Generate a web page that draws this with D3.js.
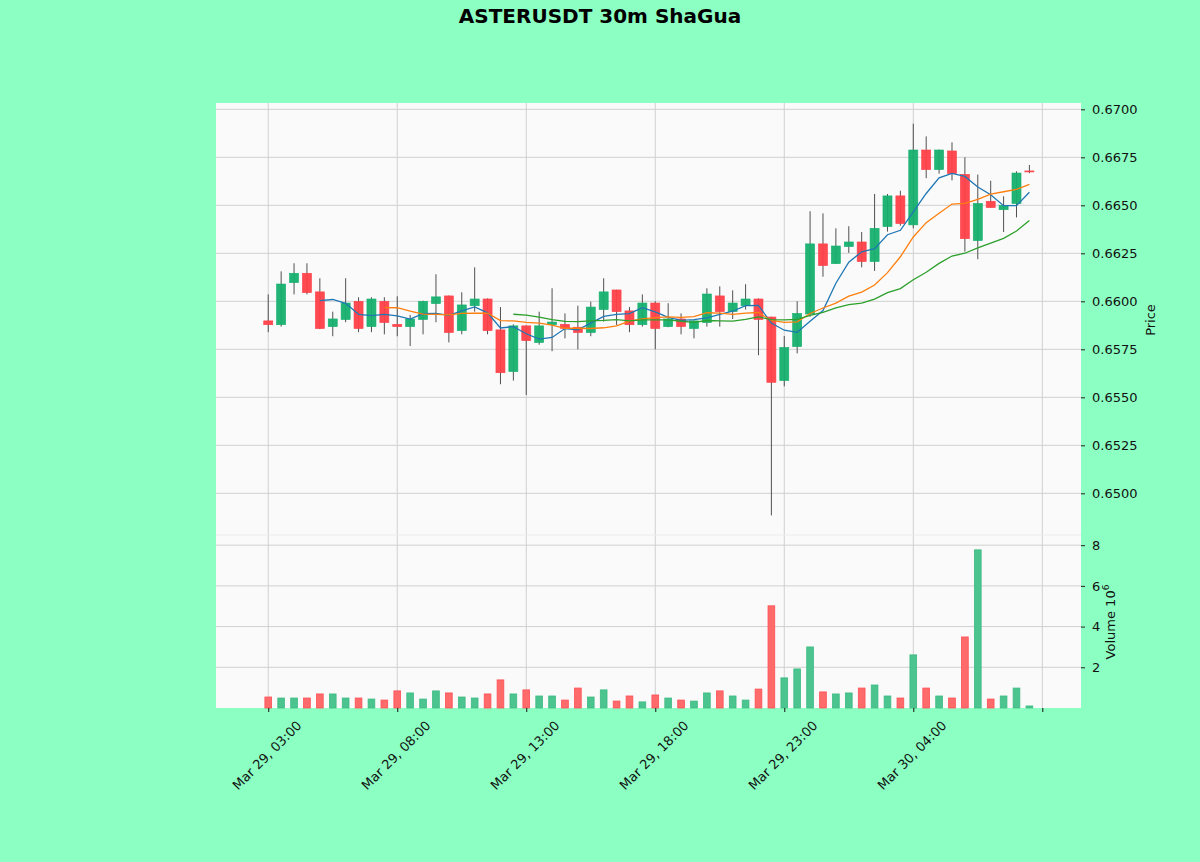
<!DOCTYPE html>
<html>
<head>
<meta charset="utf-8">
<script src="https://cdn.jsdelivr.net/npm/d3@7"></script>
<style>
  body { margin: 0; background: #8cffc2; }
  svg { display: block; font-family: "DejaVu Sans", sans-serif; }
</style>
</head>
<body>
<div id="chart"></div>
<script>
// candle times, 30m bars
const times = [
  "29 03:00","29 03:30","29 04:00","29 04:30","29 05:00","29 05:30","29 06:00","29 06:30","29 07:00","29 07:30",
  "29 08:00","29 08:30","29 09:00","29 09:30","29 10:00","29 10:30","29 11:00","29 11:30","29 12:00","29 12:30",
  "29 13:00","29 13:30","29 14:00","29 14:30","29 15:00","29 15:30","29 16:00","29 16:30","29 17:00","29 17:30",
  "29 18:00","29 18:30","29 19:00","29 19:30","29 20:00","29 20:30","29 21:00","29 21:30","29 22:00","29 22:30",
  "29 23:00","29 23:30","30 00:00","30 00:30","30 01:00","30 01:30","30 02:00","30 02:30","30 03:00","30 03:30",
  "30 04:00","30 04:30","30 05:00","30 05:30","30 06:00","30 06:30","30 07:00","30 07:30","30 08:00","30 08:30"
];

const opens = [
  0.65898,0.65878,0.66097,0.66146,0.66049,0.65868,0.65905,0.66000,0.65868,0.66000,
  0.65880,0.65868,0.65905,0.65988,0.66028,0.65847,0.65977,0.66012,0.65851,0.65634,
  0.65872,0.65785,0.65878,0.65880,0.65865,0.65837,0.65957,0.66059,0.65950,0.65878,
  0.65991,0.65868,0.65908,0.65858,0.65889,0.66028,0.65946,0.65977,0.66012,0.65918,
  0.65587,0.65764,0.65934,0.66299,0.66196,0.66285,0.66309,0.66207,0.66389,0.66549,
  0.66398,0.66788,0.66686,0.66783,0.66661,0.66316,0.66521,0.66477,0.66509,0.66679
];
const highs = [
  0.66036,0.66156,0.66198,0.66198,0.66120,0.65946,0.66120,0.66021,0.66021,0.66021,
  0.66026,0.65929,0.66003,0.66141,0.66030,0.66047,0.66177,0.66015,0.65970,0.65880,
  0.65875,0.65946,0.66068,0.65937,0.65977,0.65998,0.66120,0.66060,0.65970,0.66036,
  0.66000,0.65990,0.65937,0.65900,0.66068,0.66078,0.66057,0.66089,0.66015,0.65920,
  0.65819,0.66000,0.66469,0.66458,0.66380,0.66391,0.66361,0.66559,0.66559,0.66576,
  0.66925,0.66859,0.66790,0.66828,0.66750,0.66660,0.66628,0.66547,0.66677,0.66710
];
const lows = [
  0.65839,0.65868,0.66036,0.66036,0.65855,0.65818,0.65891,0.65839,0.65839,0.65828,
  0.65818,0.65767,0.65828,0.65891,0.65786,0.65828,0.65946,0.65828,0.65568,0.65587,
  0.65512,0.65774,0.65740,0.65807,0.65750,0.65818,0.65894,0.65877,0.65839,0.65868,
  0.65750,0.65865,0.65828,0.65807,0.65868,0.65868,0.65908,0.65957,0.65719,0.64885,
  0.65557,0.65729,0.65920,0.66128,0.66195,0.66252,0.66177,0.66158,0.66363,0.66394,
  0.66380,0.66641,0.66665,0.66630,0.66259,0.66219,0.66488,0.66361,0.66437,0.66667
];
const closes = [
  0.65878,0.66090,0.66146,0.66045,0.65858,0.65908,0.65991,0.65858,0.66012,0.65889,
  0.65868,0.65908,0.66000,0.66023,0.65837,0.65981,0.66012,0.65847,0.65628,0.65872,
  0.65795,0.65872,0.65892,0.65859,0.65837,0.65970,0.66049,0.65946,0.65878,0.65991,
  0.65858,0.65908,0.65868,0.65898,0.66038,0.65946,0.65991,0.66012,0.65905,0.65578,
  0.65760,0.65937,0.66299,0.66186,0.66288,0.66309,0.66207,0.66380,0.66549,0.66405,
  0.66788,0.66686,0.66788,0.66665,0.66326,0.66510,0.66488,0.66500,0.66668,0.66674
];
// volume in millions
const volumes = [
  0.54,0.49,0.49,0.49,0.69,0.69,0.49,0.49,0.44,0.39,
  0.84,0.74,0.44,0.84,0.74,0.54,0.49,0.69,1.38,0.69,
  0.89,0.59,0.59,0.39,0.98,0.54,0.89,0.34,0.59,0.30,
  0.64,0.49,0.39,0.34,0.74,0.84,0.59,0.39,0.93,5.02,
  1.48,1.92,3.00,0.79,0.69,0.74,0.98,1.13,0.59,0.49,
  2.61,0.98,0.59,0.49,3.49,7.77,0.44,0.59,0.98,0.10
];

const mavPeriods = [5, 10, 20];
const mavColors = ["#1f77b4", "#ff7f0e", "#2ca02c"];

const priceTicks = [0.6500, 0.6525, 0.6550, 0.6575, 0.6600, 0.6625, 0.6650, 0.6675, 0.6700];
const volTicks = [2, 4, 6, 8];
const xTickIdx = [0, 10, 20, 30, 40, 50, 60];
const xTickLabels = ["Mar 29, 03:00", "Mar 29, 08:00", "Mar 29, 13:00", "Mar 29, 18:00",
                     "Mar 29, 23:00", "Mar 30, 04:00", ""];

const upColor = "#15b06e", downColor = "#ff4048";
const upVol = "#4bc48f", downVol = "#ff6b6b";

// layout
const W = 1200, H = 862;
const left = 216, right = 1081;
const priceTop = 103, priceBottom = 535, volTop = 535, volBottom = 708;

const svg = d3.select("#chart").append("svg")
  .attr("width", W).attr("height", H);

svg.append("rect").attr("width", W).attr("height", H).attr("fill", "#8cffc2");

const x = d3.scaleLinear().domain([-4.05, 63.0]).range([left, right]);
const y = d3.scaleLinear().domain([0.647828, 0.670328]).range([priceBottom, priceTop]);
const yv = d3.scaleLinear().domain([0, 8.5]).range([volBottom, volTop]);

const step = x(1) - x(0);

// panel backgrounds
svg.append("rect").attr("x", left).attr("y", priceTop)
  .attr("width", right - left).attr("height", volBottom - priceTop)
  .attr("fill", "#fafafa");

const grid = svg.append("g").attr("stroke", "#d0d0d0").attr("stroke-width", 1);
priceTicks.forEach(t => {
  grid.append("line").attr("x1", left).attr("x2", right)
    .attr("y1", y(t)).attr("y2", y(t));
});
volTicks.forEach(t => {
  grid.append("line").attr("x1", left).attr("x2", right)
    .attr("y1", yv(t)).attr("y2", yv(t));
});
xTickIdx.forEach(t => {
  grid.append("line").attr("x1", x(t)).attr("x2", x(t))
    .attr("y1", priceTop).attr("y2", volBottom);
});
svg.append("line").attr("x1", left).attr("x2", right)
  .attr("y1", volTop).attr("y2", volTop)
  .attr("stroke", "#ececec").attr("stroke-width", 1);

const data = times.map((t, i) => ({
  i, t, o: opens[i], h: highs[i], l: lows[i], c: closes[i], v: volumes[i],
  up: closes[i] >= opens[i],
  vup: i === 0 ? closes[i] >= opens[i] : closes[i] >= closes[i - 1]
}));

// volume bars
const vw = step * 0.52;
svg.append("g").selectAll("rect").data(data).enter().append("rect")
  .attr("x", d => x(d.i) - vw / 2)
  .attr("y", d => yv(d.v))
  .attr("width", vw)
  .attr("height", d => yv(0) - yv(d.v))
  .attr("fill", d => d.vup ? upVol : downVol)
  .attr("stroke", d => d.vup ? "#3dbb83" : "#ff4f55")
  .attr("stroke-width", 0.8);

// wicks
svg.append("g").selectAll("line").data(data).enter().append("line")
  .attr("x1", d => x(d.i)).attr("x2", d => x(d.i))
  .attr("y1", d => y(d.h)).attr("y2", d => y(d.l))
  .attr("stroke", "#505050").attr("stroke-width", 1);

// bodies
const bw = step * 0.7;
svg.append("g").selectAll("rect").data(data).enter().append("rect")
  .attr("x", d => x(d.i) - bw / 2)
  .attr("y", d => y(Math.max(d.o, d.c)))
  .attr("width", bw)
  .attr("height", d => Math.max(1, Math.abs(y(d.o) - y(d.c))))
  .attr("fill", d => d.up ? upColor : downColor)
  .attr("stroke", d => d.up ? upColor : downColor)
  .attr("stroke-width", 0.6)
  .attr("fill-opacity", 0.95);

// moving averages of the closes
const line = d3.line().x(d => x(d[0])).y(d => y(d[1]));
mavPeriods.forEach((n, k) => {
  const pts = [];
  for (let i = n - 1; i < closes.length; i++) {
    pts.push([i, d3.mean(closes.slice(i - n + 1, i + 1))]);
  }
  svg.append("path").datum(pts)
    .attr("d", line)
    .attr("fill", "none")
    .attr("stroke", mavColors[k])
    .attr("stroke-width", 1.3);
});

// right axes
const pAxis = svg.append("g").attr("transform", `translate(${right},0)`)
  .call(d3.axisRight(y).tickValues(priceTicks).tickFormat(d3.format(".4f"))
    .tickSize(4).tickPadding(7));
const vAxis = svg.append("g").attr("transform", `translate(${right},0)`)
  .call(d3.axisRight(yv).tickValues(volTicks).tickFormat(d3.format("d"))
    .tickSize(4).tickPadding(7));
[pAxis, vAxis].forEach(g => {
  g.select(".domain").remove();
  g.selectAll("text").attr("font-size", 13).attr("fill", "#111")
    .attr("font-family", "DejaVu Sans");
  g.selectAll("line").attr("stroke", "#222");
});

svg.append("text")
  .attr("transform", "translate(1155,320) rotate(-90)")
  .attr("text-anchor", "middle")
  .attr("font-size", 13).attr("fill", "#111")
  .text("Price");

const vl = svg.append("text")
  .attr("transform", "translate(1115,622) rotate(-90)")
  .attr("text-anchor", "middle")
  .attr("font-size", 13).attr("fill", "#111");
vl.append("tspan").text("Volume  10");
vl.append("tspan").attr("font-size", 9).attr("dy", -6).text("6");

// bottom axis
const xAxis = svg.append("g").attr("transform", `translate(0,${volBottom})`)
  .call(d3.axisBottom(x).tickValues(xTickIdx).tickFormat((d, i) => xTickLabels[i])
    .tickSize(4).tickPadding(0));
xAxis.select(".domain").remove();
xAxis.selectAll("line").attr("stroke", "#111");
xAxis.selectAll("text")
  .attr("font-size", 13).attr("fill", "#111").attr("font-family", "DejaVu Sans")
  .attr("text-anchor", "middle").attr("dy", null).attr("y", null)
  .attr("dominant-baseline", "middle")
  .attr("transform", "translate(-1,48) rotate(-45)");

// title
svg.append("text")
  .attr("x", 600).attr("y", 23)
  .attr("text-anchor", "middle")
  .attr("font-size", 20).attr("font-weight", "bold").attr("fill", "#000")
  .text("ASTERUSDT 30m ShaGua");
</script>
</body>
</html>
